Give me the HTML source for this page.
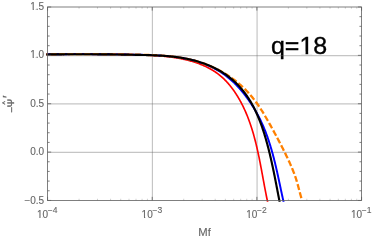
<!DOCTYPE html>
<html><head><meta charset="utf-8"><title>plot</title>
<style>
html,body{margin:0;padding:0;background:#fff;}
body{width:374px;height:241px;overflow:hidden;}
svg{display:block;will-change:transform;}
text{font-family:"Liberation Sans",sans-serif;}
</style></head><body>
<svg width="374" height="241" viewBox="0 0 374 241">
<defs><clipPath id="psic"><rect x="3" y="-4.9" width="12" height="9"/></clipPath><clipPath id="clip"><rect x="46.05" y="5.5" width="317.0" height="196.25"/></clipPath></defs>
<rect width="374" height="241" fill="#ffffff"/>
<text x="270.9" y="54.4" font-size="24" fill="#000" stroke="#000" stroke-width="0.35" textLength="56.3" lengthAdjust="spacingAndGlyphs">q=18</text>
<path d="M300.3,51.8h5.25v3h-5.25zM308.2,51.8h5v3h-5z" fill="#ffffff"/>
<line x1="152.42" y1="7.0" x2="152.42" y2="200.45" stroke="#666666" stroke-opacity="0.38" stroke-width="1.2"/><line x1="257.08" y1="7.0" x2="257.08" y2="200.45" stroke="#666666" stroke-opacity="0.38" stroke-width="1.2"/><line x1="47.55" y1="152.34" x2="361.55" y2="152.34" stroke="#666666" stroke-opacity="0.38" stroke-width="1.2"/><line x1="47.55" y1="103.97" x2="361.55" y2="103.97" stroke="#666666" stroke-opacity="0.38" stroke-width="1.2"/><line x1="47.55" y1="55.61" x2="361.55" y2="55.61" stroke="#666666" stroke-opacity="0.38" stroke-width="1.2"/>

<g clip-path="url(#clip)" fill="none" stroke-linejoin="round">
<path d="M46.24,54.32 L47.04,54.30 L47.84,54.28 L48.65,54.26 L49.45,54.24 L50.26,54.22 L51.06,54.21 L51.86,54.19 L52.66,54.17 L53.46,54.16 L54.26,54.14 L55.06,54.13 L55.86,54.11 L56.66,54.10 L57.46,54.09 L58.26,54.07 L59.06,54.06 L59.85,54.05 L60.65,54.03 L61.45,54.02 L62.24,54.01 L63.04,54.00 L63.84,53.99 L64.63,53.98 L65.43,53.97 L66.22,53.96 L67.02,53.95 L67.81,53.94 L68.60,53.94 L69.40,53.93 L70.19,53.92 L70.98,53.92 L71.77,53.91 L72.57,53.90 L73.36,53.90 L74.15,53.89 L74.94,53.89 L75.73,53.88 L76.52,53.88 L77.31,53.88 L78.10,53.87 L78.89,53.87 L79.68,53.87 L80.47,53.87 L81.26,53.87 L82.05,53.87 L82.84,53.87 L83.63,53.87 L84.42,53.87 L85.21,53.87 L86.00,53.87 L86.78,53.87 L87.57,53.87 L88.36,53.88 L89.15,53.88 L89.94,53.88 L90.72,53.89 L91.51,53.89 L92.30,53.89 L93.09,53.90 L93.87,53.90 L94.66,53.91 L95.45,53.92 L96.24,53.92 L97.02,53.93 L97.81,53.94 L98.60,53.94 L99.39,53.95 L100.17,53.96 L100.96,53.97 L101.75,53.98 L102.53,53.99 L103.32,54.00 L104.11,54.01 L104.90,54.02 L105.68,54.03 L106.47,54.04 L107.26,54.06 L108.04,54.07 L108.83,54.08 L109.62,54.10 L110.41,54.11 L111.19,54.12 L111.98,54.14 L112.77,54.15 L113.56,54.17 L114.35,54.18 L115.14,54.20 L115.92,54.22 L116.71,54.23 L117.50,54.25 L118.29,54.27 L119.08,54.29 L119.87,54.30 L120.66,54.32 L121.45,54.34 L122.24,54.36 L123.03,54.38 L123.82,54.40 L124.61,54.42 L125.40,54.44 L126.19,54.47 L126.98,54.49 L127.77,54.51 L128.57,54.53 L129.36,54.55 L130.15,54.58 L130.94,54.60 L131.74,54.63 L132.53,54.65 L133.32,54.68 L134.12,54.70 L134.91,54.73 L135.71,54.75 L136.50,54.78 L137.30,54.81 L138.09,54.83 L138.89,54.86 L139.68,54.89 L140.48,54.92 L141.28,54.95 L142.07,54.97 L142.87,55.00 L143.67,55.03 L144.47,55.07 L145.27,55.10 L146.07,55.13 L146.86,55.16 L147.66,55.20 L148.46,55.24 L149.26,55.27 L150.06,55.31 L150.86,55.35 L151.66,55.39 L152.46,55.44 L153.26,55.48 L154.06,55.53 L154.86,55.58 L155.66,55.63 L156.46,55.68 L157.25,55.73 L158.05,55.79 L158.85,55.85 L159.65,55.91 L160.45,55.97 L161.24,56.04 L162.04,56.10 L162.84,56.17 L163.63,56.25 L164.43,56.32 L165.22,56.40 L166.02,56.48 L166.81,56.57 L167.61,56.65 L168.40,56.75 L169.19,56.84 L169.98,56.94 L170.78,57.04 L171.57,57.14 L172.36,57.25 L173.15,57.36 L173.93,57.47 L174.72,57.59 L175.51,57.71 L176.30,57.84 L177.08,57.97 L177.86,58.10 L178.65,58.24 L179.43,58.39 L180.21,58.53 L180.99,58.68 L181.77,58.84 L182.55,59.00 L183.33,59.17 L184.10,59.34 L184.88,59.51 L185.65,59.69 L186.43,59.87 L187.20,60.06 L187.97,60.26 L188.74,60.46 L189.50,60.66 L190.27,60.87 L191.03,61.09 L191.80,61.31 L192.56,61.54 L193.32,61.77 L194.08,62.01 L194.83,62.25 L195.59,62.50 L196.34,62.75 L197.09,63.02 L197.84,63.28 L198.58,63.56 L199.33,63.83 L200.07,64.12 L200.80,64.41 L201.54,64.71 L202.27,65.01 L202.99,65.32 L203.72,65.64 L204.44,65.96 L205.16,66.29 L205.87,66.63 L206.58,66.97 L207.29,67.32 L207.99,67.68 L208.68,68.04 L209.38,68.41 L210.07,68.79 L210.75,69.17 L211.43,69.56 L212.11,69.96 L212.78,70.37 L213.44,70.78 L214.11,71.20 L214.76,71.63 L215.41,72.06 L216.06,72.51 L216.70,72.95 L217.33,73.41 L217.96,73.88 L218.58,74.35 L219.20,74.83 L219.81,75.32 L220.41,75.81 L221.01,76.32 L221.60,76.83 L222.19,77.35 L222.77,77.88 L223.34,78.41 L223.91,78.95 L224.47,79.50 L225.02,80.05 L225.57,80.61 L226.12,81.18 L226.66,81.75 L227.19,82.33 L227.72,82.92 L228.24,83.51 L228.75,84.10 L229.26,84.71 L229.77,85.31 L230.26,85.92 L230.76,86.54 L231.24,87.16 L231.73,87.79 L232.20,88.42 L232.67,89.06 L233.14,89.70 L233.60,90.34 L234.06,90.99 L234.51,91.64 L234.95,92.29 L235.39,92.95 L235.83,93.61 L236.26,94.28 L236.68,94.94 L237.10,95.61 L237.52,96.29 L237.93,96.96 L238.34,97.64 L238.74,98.32 L239.13,99.00 L239.52,99.69 L239.91,100.37 L240.29,101.06 L240.67,101.75 L241.04,102.45 L241.41,103.15 L241.78,103.84 L242.14,104.55 L242.49,105.25 L242.84,105.95 L243.19,106.66 L243.53,107.37 L243.87,108.08 L244.21,108.80 L244.54,109.51 L244.86,110.23 L245.19,110.95 L245.50,111.67 L245.82,112.40 L246.13,113.12 L246.44,113.85 L246.74,114.58 L247.04,115.31 L247.33,116.04 L247.63,116.78 L247.91,117.51 L248.20,118.25 L248.48,118.99 L248.76,119.73 L249.03,120.48 L249.30,121.22 L249.57,121.97 L249.84,122.71 L250.10,123.46 L250.36,124.21 L250.61,124.96 L250.86,125.72 L251.11,126.47 L251.36,127.23 L251.60,127.98 L251.84,128.74 L252.08,129.50 L252.31,130.26 L252.54,131.02 L252.77,131.79 L253.00,132.55 L253.22,133.32 L253.44,134.08 L253.66,134.85 L253.87,135.62 L254.08,136.39 L254.30,137.16 L254.50,137.93 L254.71,138.70 L254.91,139.47 L255.11,140.25 L255.31,141.02 L255.51,141.80 L255.70,142.57 L255.90,143.35 L256.09,144.13 L256.27,144.91 L256.46,145.69 L256.64,146.46 L256.83,147.24 L257.01,148.03 L257.19,148.81 L257.36,149.59 L257.54,150.37 L257.71,151.15 L257.88,151.93 L258.06,152.72 L258.22,153.50 L258.39,154.28 L258.56,155.07 L258.72,155.85 L258.89,156.64 L259.05,157.42 L259.21,158.21 L259.37,158.99 L259.53,159.78 L259.68,160.56 L259.84,161.35 L259.99,162.13 L260.15,162.92 L260.30,163.70 L260.45,164.49 L260.60,165.27 L260.75,166.05 L260.90,166.84 L261.05,167.62 L261.20,168.41 L261.35,169.19 L261.50,169.97 L261.64,170.76 L261.79,171.54 L261.93,172.32 L262.08,173.10 L262.22,173.89 L262.37,174.67 L262.51,175.45 L262.65,176.23 L262.80,177.01 L262.94,177.79 L263.08,178.56 L263.23,179.34 L263.37,180.12 L263.51,180.90 L263.66,181.67 L263.80,182.45 L263.94,183.22 L264.09,183.99 L264.23,184.77 L264.37,185.54 L264.52,186.31 L264.66,187.08 L264.81,187.85 L264.95,188.61 L265.10,189.38 L265.24,190.15 L265.39,190.91 L265.54,191.68 L265.69,192.44 L265.84,193.20 L265.99,193.96 L266.14,194.72 L266.29,195.48 L266.44,196.23 L266.59,196.99 L266.75,197.74 L266.90,198.49 L267.06,199.24 L267.21,199.99 L267.37,200.74 L267.53,201.49 L267.69,202.23" stroke="#ff0000" stroke-width="1.65"/>
<path d="M46.26,54.36 L47.09,54.35 L47.91,54.34 L48.74,54.33 L49.56,54.32 L50.39,54.31 L51.21,54.30 L52.03,54.29 L52.86,54.28 L53.68,54.27 L54.50,54.26 L55.32,54.25 L56.14,54.24 L56.96,54.23 L57.78,54.23 L58.61,54.22 L59.43,54.21 L60.24,54.20 L61.06,54.20 L61.88,54.19 L62.70,54.18 L63.52,54.18 L64.34,54.17 L65.16,54.17 L65.97,54.16 L66.79,54.16 L67.61,54.15 L68.42,54.15 L69.24,54.15 L70.06,54.14 L70.87,54.14 L71.69,54.14 L72.50,54.13 L73.32,54.13 L74.13,54.13 L74.95,54.13 L75.76,54.13 L76.58,54.12 L77.39,54.12 L78.21,54.12 L79.02,54.12 L79.83,54.12 L80.65,54.12 L81.46,54.12 L82.27,54.12 L83.09,54.12 L83.90,54.12 L84.71,54.13 L85.52,54.13 L86.34,54.13 L87.15,54.13 L87.96,54.13 L88.77,54.14 L89.59,54.14 L90.40,54.14 L91.21,54.15 L92.02,54.15 L92.83,54.15 L93.65,54.16 L94.46,54.16 L95.27,54.17 L96.08,54.17 L96.89,54.18 L97.70,54.18 L98.52,54.19 L99.33,54.19 L100.14,54.20 L100.95,54.21 L101.76,54.21 L102.57,54.22 L103.39,54.23 L104.20,54.23 L105.01,54.24 L105.82,54.25 L106.63,54.26 L107.44,54.27 L108.26,54.27 L109.07,54.28 L109.88,54.29 L110.69,54.30 L111.50,54.31 L112.32,54.32 L113.13,54.33 L113.94,54.34 L114.76,54.35 L115.57,54.36 L116.38,54.37 L117.19,54.38 L118.01,54.40 L118.82,54.41 L119.63,54.42 L120.45,54.43 L121.26,54.44 L122.08,54.46 L122.89,54.47 L123.71,54.48 L124.52,54.50 L125.34,54.51 L126.15,54.52 L126.97,54.54 L127.78,54.55 L128.60,54.57 L129.41,54.58 L130.23,54.60 L131.05,54.61 L131.86,54.63 L132.68,54.64 L133.50,54.66 L134.32,54.67 L135.13,54.69 L135.95,54.71 L136.77,54.72 L137.59,54.74 L138.41,54.76 L139.23,54.77 L140.05,54.79 L140.87,54.81 L141.69,54.83 L142.51,54.84 L143.33,54.86 L144.15,54.88 L144.97,54.90 L145.80,54.92 L146.62,54.94 L147.44,54.97 L148.26,54.99 L149.09,55.01 L149.91,55.04 L150.73,55.07 L151.55,55.10 L152.38,55.14 L153.20,55.17 L154.02,55.21 L154.84,55.25 L155.67,55.29 L156.49,55.33 L157.31,55.38 L158.13,55.42 L158.95,55.47 L159.78,55.52 L160.60,55.57 L161.42,55.63 L162.24,55.68 L163.06,55.74 L163.88,55.80 L164.70,55.87 L165.52,55.93 L166.34,56.00 L167.16,56.08 L167.98,56.15 L168.80,56.23 L169.61,56.31 L170.43,56.39 L171.25,56.48 L172.06,56.57 L172.88,56.66 L173.70,56.76 L174.51,56.86 L175.32,56.97 L176.14,57.08 L176.95,57.19 L177.76,57.30 L178.57,57.42 L179.38,57.55 L180.19,57.67 L181.00,57.80 L181.81,57.94 L182.62,58.08 L183.42,58.22 L184.23,58.37 L185.03,58.53 L185.84,58.69 L186.64,58.85 L187.44,59.02 L188.24,59.19 L189.04,59.37 L189.84,59.55 L190.64,59.73 L191.43,59.92 L192.23,60.11 L193.02,60.31 L193.82,60.51 L194.61,60.72 L195.40,60.94 L196.19,61.16 L196.97,61.38 L197.76,61.61 L198.54,61.85 L199.32,62.09 L199.82,62.33 L200.57,62.59 L201.33,62.84 L202.08,63.11 L202.82,63.37 L203.57,63.65 L204.31,63.93 L205.04,64.21 L205.78,64.50 L206.51,64.80 L207.24,65.10 L207.96,65.41 L208.68,65.72 L209.40,66.04 L210.11,66.37 L210.82,66.70 L211.53,67.03 L212.24,67.38 L212.94,67.73 L213.63,68.08 L214.32,68.44 L215.01,68.81 L215.70,69.18 L216.38,69.56 L217.06,69.94 L217.74,70.33 L218.41,70.73 L219.08,71.13 L219.74,71.54 L220.40,71.96 L221.06,72.38 L221.71,72.80 L222.36,73.24 L223.00,73.68 L223.64,74.13 L224.28,74.57 L224.91,75.03 L225.54,75.49 L226.16,75.95 L226.78,76.43 L227.40,76.91 L228.01,77.39 L228.62,77.89 L229.23,78.39 L229.83,78.89 L230.43,79.40 L231.02,79.92 L231.61,80.45 L232.19,80.98 L232.78,81.52 L233.35,82.06 L233.93,82.61 L234.50,83.17 L235.07,83.73 L235.63,84.30 L236.20,84.88 L236.76,85.46 L237.31,86.04 L237.87,86.63 L238.42,87.23 L238.96,87.83 L239.51,88.45 L240.05,89.06 L240.59,89.68 L241.12,90.31 L241.65,90.94 L242.18,91.58 L242.71,92.22 L243.23,92.86 L243.75,93.51 L244.27,94.17 L244.78,94.83 L245.29,95.49 L245.80,96.15 L246.30,96.83 L246.80,97.50 L247.30,98.18 L247.79,98.86 L248.28,99.55 L248.76,100.24 L249.24,100.93 L249.72,101.63 L250.19,102.33 L250.66,103.03 L251.13,103.74 L251.59,104.45 L252.05,105.17 L252.51,105.88 L252.96,106.60 L253.41,107.33 L253.85,108.05 L254.29,108.78 L254.73,109.51 L255.16,110.25 L255.59,110.98 L256.01,111.72 L256.43,112.47 L256.85,113.21 L257.26,113.96 L257.67,114.71 L258.07,115.46 L258.47,116.21 L258.86,116.97 L259.25,117.73 L259.64,118.49 L260.02,119.25 L260.39,120.02 L260.77,120.78 L261.13,121.55 L261.50,122.32 L261.85,123.09 L262.20,123.87 L262.55,124.64 L262.89,125.42 L263.23,126.19 L263.57,126.97 L263.89,127.75 L264.22,128.53 L264.54,129.32 L264.85,130.10 L265.16,130.89 L265.47,131.67 L265.77,132.46 L266.07,133.24 L266.37,134.03 L266.66,134.82 L266.94,135.61 L267.23,136.40 L267.51,137.19 L267.78,137.98 L268.05,138.77 L268.32,139.56 L268.59,140.35 L268.85,141.15 L269.11,141.94 L269.37,142.73 L269.62,143.52 L269.87,144.31 L270.12,145.11 L270.36,145.90 L270.60,146.69 L270.84,147.48 L271.07,148.28 L271.31,149.07 L271.54,149.86 L271.76,150.65 L271.99,151.45 L272.21,152.24 L272.43,153.03 L272.65,153.83 L272.86,154.62 L273.08,155.41 L273.29,156.20 L273.50,157.00 L273.70,157.79 L273.91,158.59 L274.11,159.38 L274.31,160.17 L274.51,160.97 L274.71,161.76 L274.90,162.55 L275.10,163.35 L275.29,164.14 L275.48,164.94 L275.67,165.73 L275.86,166.53 L276.04,167.32 L276.23,168.12 L276.41,168.91 L276.59,169.71 L276.77,170.50 L276.95,171.30 L277.13,172.09 L277.31,172.89 L277.49,173.68 L277.66,174.48 L277.84,175.28 L278.01,176.07 L278.18,176.87 L278.36,177.66 L278.53,178.46 L278.70,179.26 L278.87,180.05 L279.04,180.85 L279.21,181.65 L279.38,182.44 L279.55,183.24 L279.72,184.04 L279.89,184.83 L280.06,185.63 L280.23,186.43 L280.40,187.23 L280.57,188.03 L280.73,188.82 L280.90,189.62 L281.07,190.42 L281.24,191.22 L281.41,192.02 L281.58,192.82 L281.76,193.61 L281.93,194.41 L282.10,195.21 L282.27,196.01 L282.45,196.81 L282.62,197.61 L282.79,198.41 L282.97,199.21 L283.15,200.01 L283.32,200.81 L283.50,201.61 L283.68,202.41" stroke="#0000ff" stroke-width="1.95"/>
<path d="M46.26,54.36 L47.09,54.35 L47.91,54.34 L48.74,54.33 L49.56,54.32 L50.39,54.31 L51.21,54.30 L52.03,54.29 L52.86,54.28 L53.68,54.27 L54.50,54.26 L55.32,54.25 L56.14,54.24 L56.96,54.23 L57.78,54.23 L58.61,54.22 L59.43,54.21 L60.24,54.20 L61.06,54.20 L61.88,54.19 L62.70,54.18 L63.52,54.18 L64.34,54.17 L65.16,54.17 L65.97,54.16 L66.79,54.16 L67.61,54.15 L68.42,54.15 L69.24,54.15 L70.06,54.14 L70.87,54.14 L71.69,54.14 L72.50,54.13 L73.32,54.13 L74.13,54.13 L74.95,54.13 L75.76,54.13 L76.58,54.12 L77.39,54.12 L78.21,54.12 L79.02,54.12 L79.83,54.12 L80.65,54.12 L81.46,54.12 L82.27,54.12 L83.09,54.12 L83.90,54.12 L84.71,54.13 L85.52,54.13 L86.34,54.13 L87.15,54.13 L87.96,54.13 L88.77,54.14 L89.59,54.14 L90.40,54.14 L91.21,54.15 L92.02,54.15 L92.83,54.15 L93.65,54.16 L94.46,54.16 L95.27,54.17 L96.08,54.17 L96.89,54.18 L97.70,54.18 L98.52,54.19 L99.33,54.19 L100.14,54.20 L100.95,54.21 L101.76,54.21 L102.57,54.22 L103.39,54.23 L104.20,54.23 L105.01,54.24 L105.82,54.25 L106.63,54.26 L107.44,54.27 L108.26,54.27 L109.07,54.28 L109.88,54.29 L110.69,54.30 L111.50,54.31 L112.32,54.32 L113.13,54.33 L113.94,54.34 L114.76,54.35 L115.57,54.36 L116.38,54.37 L117.19,54.38 L118.01,54.40 L118.82,54.41 L119.63,54.42 L120.45,54.43 L121.26,54.44 L122.08,54.46 L122.89,54.47 L123.71,54.48 L124.52,54.50 L125.34,54.51 L126.15,54.52 L126.97,54.54 L127.78,54.55 L128.60,54.57 L129.41,54.58 L130.23,54.60 L131.05,54.61 L131.86,54.63 L132.68,54.64 L133.50,54.66 L134.32,54.67 L135.13,54.69 L135.95,54.71 L136.77,54.72 L137.59,54.74 L138.41,54.76 L139.23,54.77 L140.05,54.79 L140.87,54.81 L141.69,54.83 L142.51,54.84 L143.33,54.86 L144.15,54.88 L144.97,54.90 L145.80,54.92 L146.62,54.94 L147.44,54.97 L148.26,54.99 L149.09,55.01 L149.91,55.04 L150.73,55.07 L151.55,55.10 L152.38,55.14 L153.20,55.17 L154.02,55.21 L154.84,55.25 L155.67,55.29 L156.49,55.33 L157.31,55.38 L158.13,55.42 L158.95,55.47 L159.78,55.52 L160.60,55.57 L161.42,55.63 L162.24,55.68 L163.06,55.74 L163.88,55.80 L164.70,55.87 L165.52,55.93 L166.34,56.00 L167.16,56.08 L167.98,56.15 L168.80,56.23 L169.61,56.31 L170.43,56.39 L171.25,56.48 L172.06,56.57 L172.88,56.66 L173.70,56.76 L174.51,56.86 L175.32,56.97 L176.14,57.08 L176.95,57.19 L177.76,57.30 L178.57,57.42 L179.38,57.55 L180.19,57.67 L181.00,57.80 L181.81,57.94 L182.62,58.08 L183.42,58.22 L184.23,58.37 L185.03,58.53 L185.84,58.69 L186.64,58.85 L187.44,59.02 L188.24,59.19 L189.04,59.37 L189.84,59.55 L190.64,59.73 L191.43,59.92 L192.23,60.11 L193.02,60.31 L193.82,60.51 L194.61,60.72 L195.40,60.94 L196.19,61.16 L196.97,61.38 L197.76,61.61 L198.54,61.85 L199.32,62.09 L200.01,62.33 L200.79,62.59 L201.57,62.84 L202.36,63.11 L203.14,63.37 L203.92,63.65 L204.69,63.93 L205.47,64.21 L206.25,64.50 L207.02,64.80 L207.79,65.10 L208.56,65.41 L209.33,65.72 L210.10,66.04 L210.87,66.37 L211.63,66.70 L212.39,67.03 L213.16,67.38 L213.92,67.73 L214.67,68.08 L215.43,68.44 L216.18,68.81 L216.93,69.18 L217.68,69.56 L218.43,69.94 L219.18,70.33 L219.92,70.73 L220.66,71.13 L221.40,71.54 L222.14,71.96 L222.88,72.38 L223.61,72.80 L224.34,73.24 L225.07,73.68 L225.79,74.13 L226.52,74.57 L227.24,75.03 L227.95,75.49 L228.67,75.95 L229.38,76.43 L230.09,76.91 L230.80,77.39 L231.50,77.89 L232.20,78.39 L232.90,78.89 L233.59,79.40 L234.28,79.92 L234.97,80.45 L235.65,80.98 L236.33,81.52 L237.01,82.06 L237.68,82.61 L238.35,83.17 L239.01,83.73 L239.67,84.30 L240.33,84.88 L240.98,85.46 L241.63,86.04 L242.28,86.63 L242.92,87.23 L243.55,87.83 L244.18,88.45 L244.81,89.06 L245.43,89.68 L246.05,90.31 L246.66,90.94 L247.27,91.58 L247.87,92.22 L248.46,92.86 L249.05,93.51 L249.63,94.17 L250.21,94.83 L250.78,95.49 L251.35,96.15 L251.91,96.83 L252.46,97.50 L253.01,98.18 L253.55,98.86 L254.09,99.55 L254.62,100.24 L255.15,100.93 L255.67,101.63 L256.18,102.33 L256.69,103.03 L257.20,103.74 L257.70,104.45 L258.20,105.17 L258.69,105.88 L259.18,106.60 L259.66,107.33 L260.14,108.05 L260.62,108.78 L261.09,109.51 L261.56,110.25 L262.02,110.98 L262.49,111.72 L262.95,112.47 L263.40,113.21 L263.86,113.96 L264.31,114.71 L264.76,115.46 L265.20,116.21 L265.65,116.97 L266.09,117.73 L266.53,118.49 L266.97,119.25 L267.41,120.02 L267.85,120.78 L268.29,121.55 L268.72,122.32 L269.16,123.09 L269.59,123.87 L270.03,124.64 L270.46,125.42 L270.90,126.19 L271.33,126.97 L271.76,127.75 L272.19,128.53 L272.62,129.32 L273.05,130.10 L273.48,130.89 L273.91,131.67 L274.34,132.46 L274.77,133.24 L275.19,134.03 L275.62,134.82 L276.04,135.61 L276.47,136.40 L276.89,137.19 L277.31,137.98 L277.73,138.77 L278.15,139.56 L278.57,140.35 L278.99,141.15 L279.40,141.94 L279.82,142.73 L280.23,143.52 L280.64,144.31 L281.05,145.11 L281.46,145.90 L281.87,146.69 L282.27,147.48 L282.68,148.28 L283.08,149.07 L283.48,149.86 L283.88,150.65 L284.28,151.45 L284.67,152.24 L285.06,153.03 L285.45,153.83 L285.84,154.62 L286.23,155.41 L286.61,156.20 L286.99,157.00 L287.37,157.79 L287.75,158.59 L288.12,159.38 L288.49,160.17 L288.86,160.97 L289.22,161.76 L289.58,162.55 L289.94,163.35 L290.30,164.14 L290.65,164.94 L290.99,165.73 L291.34,166.53 L291.68,167.32 L292.01,168.12 L292.34,168.91 L292.67,169.71 L292.99,170.50 L293.30,171.30 L293.61,172.09 L293.92,172.89 L294.22,173.68 L294.51,174.48 L294.80,175.28 L295.09,176.07 L295.36,176.87 L295.63,177.66 L295.90,178.46 L296.16,179.26 L296.41,180.05 L296.65,180.85 L296.89,181.65 L297.12,182.44 L297.35,183.24 L297.57,184.04 L297.79,184.83 L298.01,185.63 L298.22,186.43 L298.43,187.23 L298.64,188.03 L298.85,188.82 L299.06,189.62 L299.27,190.42 L299.48,191.22 L299.69,192.02 L299.91,192.82 L300.12,193.61 L300.34,194.41 L300.56,195.21 L300.79,196.01 L301.02,196.81 L301.26,197.61 L301.51,198.41 L301.76,199.21" stroke="#ff8000" stroke-width="2.3" stroke-dasharray="6.05 2.39" stroke-dashoffset="4.17"/>
<path d="M46.26,54.48 L47.09,54.47 L47.91,54.46 L48.74,54.45 L49.56,54.44 L50.39,54.43 L51.21,54.42 L52.03,54.41 L52.86,54.40 L53.68,54.39 L54.50,54.38 L55.32,54.37 L56.14,54.36 L56.96,54.35 L57.78,54.35 L58.61,54.34 L59.43,54.33 L60.24,54.32 L61.06,54.32 L61.88,54.31 L62.70,54.30 L63.52,54.30 L64.34,54.29 L65.16,54.29 L65.97,54.28 L66.79,54.28 L67.61,54.27 L68.42,54.27 L69.24,54.27 L70.06,54.26 L70.87,54.26 L71.69,54.26 L72.50,54.25 L73.32,54.25 L74.13,54.25 L74.95,54.25 L75.76,54.25 L76.58,54.24 L77.39,54.24 L78.21,54.24 L79.02,54.24 L79.83,54.24 L80.65,54.24 L81.46,54.24 L82.27,54.24 L83.09,54.24 L83.90,54.24 L84.71,54.25 L85.52,54.25 L86.34,54.25 L87.15,54.25 L87.96,54.25 L88.77,54.26 L89.59,54.26 L90.40,54.26 L91.21,54.27 L92.02,54.27 L92.83,54.27 L93.65,54.28 L94.46,54.28 L95.27,54.29 L96.08,54.29 L96.89,54.30 L97.70,54.30 L98.52,54.31 L99.33,54.31 L100.14,54.32 L100.95,54.33 L101.76,54.33 L102.57,54.34 L103.39,54.35 L104.20,54.35 L105.01,54.36 L105.82,54.37 L106.63,54.38 L107.44,54.39 L108.26,54.39 L109.07,54.40 L109.88,54.41 L110.69,54.42 L111.50,54.43 L112.32,54.44 L113.13,54.45 L113.94,54.46 L114.76,54.47 L115.57,54.48 L116.38,54.49 L117.19,54.50 L118.01,54.52 L118.82,54.53 L119.63,54.54 L120.45,54.55 L121.26,54.56 L122.08,54.58 L122.89,54.59 L123.71,54.60 L124.52,54.62 L125.34,54.63 L126.15,54.64 L126.97,54.66 L127.78,54.67 L128.60,54.69 L129.41,54.70 L130.23,54.72 L131.05,54.73 L131.86,54.75 L132.68,54.76 L133.50,54.78 L134.32,54.79 L135.13,54.81 L135.95,54.83 L136.77,54.84 L137.59,54.86 L138.41,54.88 L139.23,54.89 L140.05,54.91 L140.87,54.93 L141.69,54.95 L142.51,54.96 L143.33,54.98 L144.15,55.00 L144.97,55.02 L145.80,55.04 L146.62,55.06 L147.44,55.09 L148.26,55.11 L149.09,55.13 L149.91,55.16 L150.73,55.19 L151.55,55.21 L152.38,55.24 L153.20,55.27 L154.02,55.31 L154.84,55.34 L155.67,55.38 L156.49,55.41 L157.31,55.45 L158.13,55.49 L158.95,55.54 L159.78,55.58 L160.60,55.63 L161.42,55.68 L162.24,55.73 L163.06,55.78 L163.88,55.84 L164.70,55.90 L165.52,55.96 L166.34,56.03 L167.16,56.09 L167.98,56.16 L168.80,56.24 L169.61,56.31 L170.43,56.39 L171.25,56.47 L172.06,56.56 L172.88,56.65 L173.70,56.74 L174.51,56.84 L175.32,56.94 L176.14,57.04 L176.95,57.15 L177.76,57.26 L178.57,57.37 L179.38,57.49 L180.19,57.61 L181.00,57.74 L181.81,57.87 L182.62,58.00 L183.42,58.14 L184.23,58.29 L185.03,58.44 L185.84,58.59 L186.64,58.75 L187.44,58.91 L188.24,59.08 L189.04,59.25 L189.84,59.43 L190.64,59.61 L191.43,59.80 L192.23,59.99 L193.02,60.19 L193.82,60.39 L194.61,60.60 L195.40,60.82 L196.19,61.04 L196.97,61.26 L197.76,61.49 L198.54,61.73 L199.32,61.97 L200.10,62.21 L200.88,62.47 L201.66,62.72 L202.43,62.99 L203.20,63.25 L203.97,63.53 L204.73,63.81 L205.50,64.09 L206.26,64.38 L207.02,64.68 L207.77,64.98 L208.53,65.29 L209.28,65.60 L210.03,65.92 L210.77,66.25 L211.51,66.58 L212.25,66.91 L212.99,67.26 L213.72,67.61 L214.45,67.96 L215.17,68.32 L215.89,68.69 L216.61,69.06 L217.33,69.44 L218.04,69.82 L218.75,70.21 L219.45,70.61 L220.15,71.01 L220.84,71.42 L221.54,71.84 L222.22,72.26 L222.91,72.68 L223.58,73.12 L224.26,73.56 L224.93,74.01 L225.59,74.46 L226.25,74.92 L226.91,75.38 L227.56,75.85 L228.21,76.33 L228.85,76.82 L229.49,77.31 L230.12,77.81 L230.74,78.31 L231.36,78.82 L231.98,79.34 L232.59,79.86 L233.20,80.39 L233.80,80.93 L234.39,81.47 L234.98,82.02 L235.56,82.58 L236.14,83.14 L236.72,83.71 L237.28,84.28 L237.85,84.86 L238.40,85.44 L238.96,86.03 L239.50,86.63 L240.04,87.23 L240.58,87.83 L241.11,88.45 L241.63,89.06 L242.15,89.68 L242.67,90.31 L243.18,90.94 L243.68,91.58 L244.18,92.22 L244.67,92.86 L245.15,93.51 L245.64,94.17 L246.11,94.83 L246.58,95.49 L247.04,96.15 L247.50,96.83 L247.96,97.50 L248.40,98.18 L248.84,98.86 L249.28,99.55 L249.71,100.24 L250.14,100.93 L250.56,101.63 L250.97,102.33 L251.38,103.03 L251.78,103.74 L252.18,104.45 L252.58,105.17 L252.97,105.88 L253.35,106.60 L253.73,107.33 L254.10,108.05 L254.47,108.78 L254.83,109.51 L255.19,110.25 L255.55,110.98 L255.90,111.72 L256.25,112.47 L256.59,113.21 L256.92,113.96 L257.26,114.71 L257.59,115.46 L257.91,116.21 L258.23,116.97 L258.55,117.73 L258.86,118.49 L259.17,119.25 L259.47,120.02 L259.77,120.78 L260.07,121.55 L260.36,122.32 L260.65,123.09 L260.94,123.87 L261.22,124.64 L261.50,125.42 L261.77,126.19 L262.05,126.97 L262.31,127.75 L262.58,128.53 L262.84,129.32 L263.10,130.10 L263.36,130.89 L263.61,131.67 L263.86,132.46 L264.11,133.24 L264.36,134.03 L264.60,134.82 L264.84,135.61 L265.07,136.40 L265.31,137.19 L265.54,137.98 L265.77,138.77 L266.00,139.56 L266.22,140.35 L266.45,141.15 L266.67,141.94 L266.88,142.73 L267.10,143.52 L267.32,144.31 L267.53,145.11 L267.74,145.90 L267.95,146.69 L268.15,147.48 L268.36,148.28 L268.56,149.07 L268.76,149.86 L268.96,150.65 L269.16,151.45 L269.35,152.24 L269.55,153.03 L269.74,153.83 L269.93,154.62 L270.12,155.41 L270.31,156.20 L270.49,157.00 L270.68,157.79 L270.86,158.59 L271.04,159.38 L271.22,160.17 L271.40,160.97 L271.58,161.76 L271.76,162.55 L271.93,163.35 L272.11,164.14 L272.28,164.94 L272.45,165.73 L272.62,166.53 L272.79,167.32 L272.96,168.12 L273.13,168.91 L273.29,169.71 L273.46,170.50 L273.62,171.30 L273.79,172.09 L273.95,172.89 L274.11,173.68 L274.27,174.48 L274.44,175.28 L274.60,176.07 L274.76,176.87 L274.91,177.66 L275.07,178.46 L275.23,179.26 L275.39,180.05 L275.54,180.85 L275.70,181.65 L275.86,182.44 L276.01,183.24 L276.17,184.04 L276.32,184.83 L276.48,185.63 L276.63,186.43 L276.79,187.23 L276.94,188.03 L277.09,188.82 L277.25,189.62 L277.40,190.42 L277.55,191.22 L277.71,192.02 L277.86,192.82 L278.01,193.61 L278.17,194.41 L278.32,195.21 L278.48,196.01 L278.63,196.81 L278.79,197.61 L278.94,198.41 L279.10,199.21 L279.25,200.01 L279.41,200.81 L279.56,201.61 L279.72,202.41" stroke="#000000" stroke-width="2.15"/>
</g>
<rect x="47.55" y="7.0" width="314.00" height="193.45" fill="none" stroke="#606060" stroke-width="0.8"/>
<path d="M79.06,200.45v-1.7M79.06,7.0v1.7M97.49,200.45v-1.7M97.49,7.0v1.7M110.57,200.45v-1.7M110.57,7.0v1.7M120.71,200.45v-1.7M120.71,7.0v1.7M129.00,200.45v-1.7M129.00,7.0v1.7M136.00,200.45v-1.7M136.00,7.0v1.7M142.07,200.45v-1.7M142.07,7.0v1.7M147.43,200.45v-1.7M147.43,7.0v1.7M183.72,200.45v-1.7M183.72,7.0v1.7M202.16,200.45v-1.7M202.16,7.0v1.7M215.23,200.45v-1.7M215.23,7.0v1.7M225.38,200.45v-1.7M225.38,7.0v1.7M233.66,200.45v-1.7M233.66,7.0v1.7M240.67,200.45v-1.7M240.67,7.0v1.7M246.74,200.45v-1.7M246.74,7.0v1.7M252.09,200.45v-1.7M252.09,7.0v1.7M288.39,200.45v-1.7M288.39,7.0v1.7M306.82,200.45v-1.7M306.82,7.0v1.7M319.90,200.45v-1.7M319.90,7.0v1.7M330.04,200.45v-1.7M330.04,7.0v1.7M338.33,200.45v-1.7M338.33,7.0v1.7M345.34,200.45v-1.7M345.34,7.0v1.7M351.41,200.45v-1.7M351.41,7.0v1.7M356.76,200.45v-1.7M356.76,7.0v1.7M393.06,200.45v-1.7M393.06,7.0v1.7M411.49,200.45v-1.7M411.49,7.0v1.7M424.57,200.45v-1.7M424.57,7.0v1.7M434.71,200.45v-1.7M434.71,7.0v1.7M443.00,200.45v-1.7M443.00,7.0v1.7M450.00,200.45v-1.7M450.00,7.0v1.7M456.07,200.45v-1.7M456.07,7.0v1.7M461.43,200.45v-1.7M461.43,7.0v1.7M361.55,200.45v-3.6M361.55,7.0v3.6" stroke="#606060" stroke-width="0.3" fill="none"/>
<path d="M47.55,200.45h3.6M361.55,200.45h-3.6M47.55,190.78h2.1M361.55,190.78h-2.1M47.55,181.10h2.1M361.55,181.10h-2.1M47.55,171.43h2.1M361.55,171.43h-2.1M47.55,161.76h2.1M361.55,161.76h-2.1M47.55,152.09h3.6M361.55,152.09h-3.6M47.55,142.41h2.1M361.55,142.41h-2.1M47.55,132.74h2.1M361.55,132.74h-2.1M47.55,123.07h2.1M361.55,123.07h-2.1M47.55,113.40h2.1M361.55,113.40h-2.1M47.55,103.72h3.6M361.55,103.72h-3.6M47.55,94.05h2.1M361.55,94.05h-2.1M47.55,84.38h2.1M361.55,84.38h-2.1M47.55,74.71h2.1M361.55,74.71h-2.1M47.55,65.03h2.1M361.55,65.03h-2.1M47.55,55.36h3.6M361.55,55.36h-3.6M47.55,45.69h2.1M361.55,45.69h-2.1M47.55,36.02h2.1M361.55,36.02h-2.1M47.55,26.34h2.1M361.55,26.34h-2.1M47.55,16.67h2.1M361.55,16.67h-2.1M47.55,7.00h3.6M361.55,7.00h-3.6M47.55,200.45v-3.6M47.55,7.0v3.6M152.22,200.45v-3.6M152.22,7.0v3.6M256.88,200.45v-3.6M256.88,7.0v3.6M361.55,200.45v-3.6M361.55,7.0v3.6" stroke="#606060" stroke-width="0.8" fill="none"/>
<g font-size="10" fill="#666666" stroke="#666666" stroke-width="0.12">
<text x="44.15" y="10.10" text-anchor="end">1.5</text><text x="44.15" y="58.46" text-anchor="end">1.0</text><text x="44.15" y="106.82" text-anchor="end">0.5</text><text x="44.15" y="155.19" text-anchor="end">0.0</text><text x="44.15" y="203.55" text-anchor="end">−0.5</text><text x="36.95" y="217.8">10<tspan dx="-0.3" dy="-5.3" font-size="8.5">−4</tspan></text><text x="141.62" y="217.8">10<tspan dx="-0.3" dy="-5.3" font-size="8.5">−3</tspan></text><text x="246.28" y="217.8">10<tspan dx="-0.3" dy="-5.3" font-size="8.5">−2</tspan></text><text x="350.95" y="217.8">10<tspan dx="-0.3" dy="-5.3" font-size="8.5">−1</tspan></text><text x="204.55" y="236.0" text-anchor="middle" textLength="12.5" lengthAdjust="spacingAndGlyphs">Mf</text>
</g>
<path d="M30.14,8.95h2.5v1.4h-2.5zM33.84,8.95h1.8v1.4h-1.8zM30.14,56.95h2.5v1.4h-2.5zM33.84,56.95h1.8v1.4h-1.8zM36.85,216.95h2.5v1.4h-2.5zM40.55,216.95h1.8v1.4h-1.8zM141.52,216.95h2.5v1.4h-2.5zM145.22,216.95h1.8v1.4h-1.8zM246.18,216.95h2.5v1.4h-2.5zM249.88,216.95h1.8v1.4h-1.8zM350.85,216.95h2.5v1.4h-2.5zM354.55,216.95h1.8v1.4h-1.8z" fill="#ffffff"/>
<g transform="translate(12.2,112.4) rotate(-90)" font-size="10" fill="#666666" stroke="#666666" stroke-width="0.3"><text x="-0.2" y="2.9">−</text><g clip-path="url(#psic)"><text transform="translate(5.0,0) scale(1.25,1.0)" x="0" y="0">&#968;</text></g><text x="7.95" y="-4.9" font-size="7">^</text><text x="14.3" y="-0.1" font-size="13">&#8242;</text></g>
</svg>
</body></html>
